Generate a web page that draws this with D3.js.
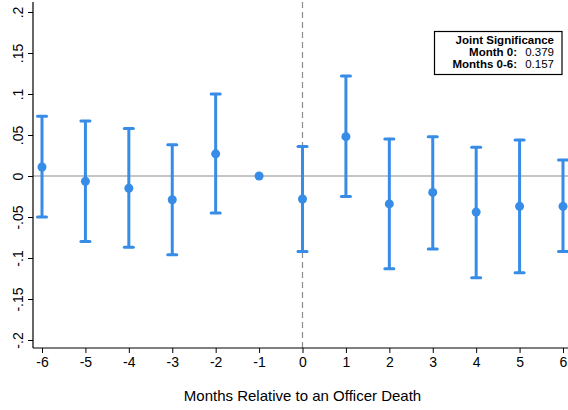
<!DOCTYPE html>
<html lang="en">
<head>
<meta charset="UTF-8">
<title>Event study</title>
<script src="https://d3js.org/d3.v7.min.js"></script>
<style>
    body { margin: 0; background: white; }
    svg { display: block; font-family: 'Liberation Sans', Arial, Helvetica, sans-serif; }
</style>
</head>
<body>
<svg width="568" height="410"></svg>
<script>
    const months = [-6, -5, -4, -3, -2, -1, 0, 1, 2, 3, 4, 5, 6];
    const estimates = [0.011, -0.0065, -0.015, -0.029, 0.027, 0, -0.028, 0.048, -0.034, -0.020, -0.044, -0.037, -0.037];
    const upper = [0.073, 0.067, 0.058, 0.038, 0.100, null, 0.036, 0.122, 0.045, 0.048, 0.035, 0.044, 0.0195];
    const lower = [-0.050, -0.080, -0.087, -0.096, -0.045, null, -0.092, -0.025, -0.113, -0.089, -0.124, -0.118, -0.092];
    const yTicks = [-0.2, -0.15, -0.1, -0.05, 0, 0.05, 0.1, 0.15, 0.2];
    const yTickLabels = ['-.2', '-.15', '-.1', '-.05', '0', '.05', '.1', '.15', '.2'];
    const statLabels = ['Month 0:', 'Months 0-6:'];
    const statValues = ['0.379', '0.157'];

    const rows = months.map((m, i) => ({ m, est: estimates[i], hi: upper[i], lo: lower[i] }));

    const blue = '#368ce6';
    const svg = d3.select('svg');

    const x = d3.scaleLinear().domain([-6, 6]).range([42, 563]);
    const y = d3.scaleLinear().domain([-0.2, 0.2]).range([340, 12]);

    const axisLeft = 33, axisBottom = 348;

    // reference lines
    svg.append('line')
        .attr('x1', axisLeft).attr('x2', 568)
        .attr('y1', y(0)).attr('y2', y(0))
        .attr('stroke', '#8c8c8c').attr('stroke-width', 1.2);
    svg.append('line')
        .attr('x1', x(0)).attr('x2', x(0))
        .attr('y1', 2).attr('y2', axisBottom)
        .attr('stroke', '#8c8c8c').attr('stroke-width', 1.2)
        .attr('stroke-dasharray', '6,4');

    // y axis
    const gy = svg.append('g').attr('transform', `translate(${axisLeft},0)`)
        .call(d3.axisLeft(y).tickValues(yTicks).tickSize(5).tickFormat((d, i) => yTickLabels[i]));
    gy.select('.domain').attr('d', `M0,2V${axisBottom}`).attr('stroke', '#000').attr('stroke-width', 1.2);
    gy.selectAll('.tick line').attr('stroke', '#000');
    gy.selectAll('.tick text')
        .attr('font-size', 14).attr('fill', '#000')
        .attr('transform', 'rotate(-90)')
        .attr('x', 0).attr('y', -10).attr('dy', 0)
        .attr('text-anchor', 'middle');

    // x axis
    const gx = svg.append('g').attr('transform', `translate(0,${axisBottom})`)
        .call(d3.axisBottom(x).tickValues(months).tickSize(5).tickFormat(d3.format('d')));
    gx.select('.domain').attr('d', `M${axisLeft},0H568`).attr('stroke', '#000').attr('stroke-width', 1.2);
    gx.selectAll('.tick line').attr('stroke', '#000');
    gx.selectAll('.tick text').attr('font-size', 14).attr('fill', '#000').attr('y', 9)
        .text(d => d < 0 ? '-' + Math.abs(d) : d);

    svg.append('text')
        .attr('x', x(0)).attr('y', 401)
        .attr('text-anchor', 'middle')
        .attr('font-size', 15)
        .text('Months Relative to an Officer Death');

    // error bars
    const bars = rows.filter(d => d.hi !== null);
    const g = svg.append('g');
    g.selectAll('line.ci').data(bars).enter().append('line')
        .attr('x1', d => x(d.m)).attr('x2', d => x(d.m))
        .attr('y1', d => y(d.hi)).attr('y2', d => y(d.lo))
        .attr('stroke', blue).attr('stroke-width', 3);
    ['hi', 'lo'].forEach(k => {
        g.selectAll('line.cap-' + k).data(bars).enter().append('line')
            .attr('x1', d => x(d.m) - 4.5).attr('x2', d => x(d.m) + 4.5)
            .attr('y1', d => y(d[k])).attr('y2', d => y(d[k]))
            .attr('stroke', blue).attr('stroke-width', 3).attr('stroke-linecap', 'round');
    });
    g.selectAll('circle').data(rows).enter().append('circle')
        .attr('cx', d => x(d.m)).attr('cy', d => y(d.est))
        .attr('r', 4.5).attr('fill', blue);

    // joint significance box
    const box = svg.append('g');
    box.append('rect')
        .attr('x', 434.5).attr('y', 31.5).attr('width', 127.5).attr('height', 43)
        .attr('fill', 'white').attr('stroke', '#000').attr('stroke-width', 1.2);
    box.append('text')
        .attr('x', 554).attr('y', 44).attr('text-anchor', 'end')
        .attr('font-size', 11.5).attr('font-weight', 'bold')
        .text('Joint Significance');
    statLabels.forEach((lab, i) => {
        box.append('text')
            .attr('x', 517).attr('y', 56 + i * 12).attr('text-anchor', 'end')
            .attr('font-size', 11.5).attr('font-weight', 'bold')
            .text(lab);
        box.append('text')
            .attr('x', 554).attr('y', 56 + i * 12).attr('text-anchor', 'end')
            .attr('font-size', 11.5)
            .text(statValues[i]);
    });
</script>
</body>
</html>
